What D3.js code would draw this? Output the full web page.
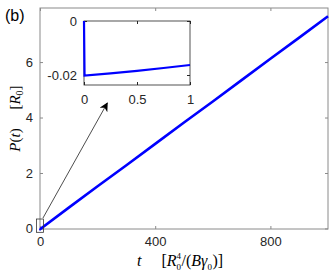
<!DOCTYPE html>
<html>
<head>
<meta charset="utf-8">
<script src="https://cdn.jsdelivr.net/npm/d3@7"></script>
<style>
  body { margin: 0; background: #fff; }
  text { font-family: 'Liberation Sans', Arial, sans-serif; }
  .lbl { font-family: 'Liberation Serif', 'DejaVu Serif', serif; }
</style>
</head>
<body>
<div id="canvas"></div>
<script>
// main curve
const tMain = [0, 1, 100, 200, 300, 400, 500, 600, 700, 800, 900, 1000];
const pMain = [0, -0.02, 0.75, 1.52, 2.28, 3.05, 3.82, 4.58, 5.35, 6.12, 6.88, 7.65];
const xTicksMain = [0, 400, 800];
const yTicksMain = [0, 2, 4, 6];

// inset curve (zoom on 0 <= t <= 1)
const tInset = [0, 0.005, 0.25, 0.5, 0.75, 1];
const pInset = [0, -0.0202, -0.0194, -0.0185, -0.0174, -0.0163];
const xTicksInset = [0, 0.5, 1];
const yTicksInset = [-0.02, 0];

const w = 332, h = 277;
const m = {left: 40, right: 328, top: 8, bottom: 229};

const svg = d3.select('#canvas').append('svg')
  .attr('width', w).attr('height', h);

const x = d3.scaleLinear().domain([0, 1000]).range([m.left, m.right]);
const y = d3.scaleLinear().domain([-0.02, 7.95]).range([m.bottom, m.top]);

const axisCol = '#8a8a8a';

function styleAxis(g, col) {
  g.select('.domain').remove();
  g.selectAll('line').attr('stroke', col);
  g.selectAll('text').attr('fill', '#262626').style('font-size', '13px');
}

svg.append('g').attr('transform', 'translate(0,' + m.bottom + ')')
  .call(d3.axisBottom(x).tickValues(xTicksMain).tickFormat(d3.format('d')).tickSizeInner(-3).tickPadding(8))
  .call(g => styleAxis(g, axisCol));
svg.append('g').attr('transform', 'translate(0,' + m.top + ')')
  .call(d3.axisTop(x).tickValues(xTicksMain).tickFormat('').tickSizeInner(-3))
  .call(g => styleAxis(g, axisCol));
svg.append('g').attr('transform', 'translate(' + m.left + ',0)')
  .call(d3.axisLeft(y).tickValues(yTicksMain).tickFormat(d3.format('d')).tickSizeInner(-3).tickPadding(7))
  .call(g => styleAxis(g, axisCol));
svg.append('g').attr('transform', 'translate(' + m.right + ',0)')
  .call(d3.axisRight(y).tickValues(yTicksMain).tickFormat('').tickSizeInner(-3))
  .call(g => styleAxis(g, axisCol));

svg.append('rect')
  .attr('x', m.left).attr('y', m.top)
  .attr('width', m.right - m.left).attr('height', m.bottom - m.top)
  .attr('fill', 'none').attr('stroke', axisCol).attr('stroke-width', 1);

const line = d3.line().x((d, i) => x(tMain[i])).y(d => y(d));
svg.append('path').datum(pMain)
  .attr('d', line)
  .attr('fill', 'none').attr('stroke', '#0000ff').attr('stroke-width', 2.6);

// zoom box around origin
const bx0 = x(-12), bx1 = x(12), by0 = y(0.34), by1 = y(-0.14);
svg.append('rect')
  .attr('x', bx0).attr('y', by0)
  .attr('width', bx1 - bx0).attr('height', by1 - by0)
  .attr('fill', 'none').attr('stroke', '#333').attr('stroke-width', 0.8);

// inset
const ix = d3.scaleLinear().domain([0, 1]).range([84, 190]);
const iy = d3.scaleLinear().domain([-0.0237, 0]).range([85, 21]);

svg.append('rect')
  .attr('x', 84).attr('y', 21).attr('width', 106).attr('height', 64)
  .attr('fill', '#fff');

const inCol = '#262626';
svg.append('g').attr('transform', 'translate(0,85)')
  .call(d3.axisBottom(ix).tickValues(xTicksInset).tickFormat(d => d === 0.5 ? '0.5' : d3.format('d')(d)).tickSizeInner(-3).tickPadding(10))
  .call(g => styleAxis(g, inCol));
svg.append('g').attr('transform', 'translate(0,21)')
  .call(d3.axisTop(ix).tickValues(xTicksInset).tickFormat('').tickSizeInner(-3))
  .call(g => styleAxis(g, inCol));
svg.append('g').attr('transform', 'translate(84,0)')
  .call(d3.axisLeft(iy).tickValues(yTicksInset).tickFormat(d => d === 0 ? '0' : d.toString()).tickSizeInner(-3).tickPadding(7))
  .call(g => styleAxis(g, inCol));
svg.append('g').attr('transform', 'translate(190,0)')
  .call(d3.axisRight(iy).tickValues(yTicksInset).tickFormat('').tickSizeInner(-3))
  .call(g => styleAxis(g, inCol));

svg.append('rect')
  .attr('x', 84).attr('y', 21).attr('width', 106).attr('height', 64)
  .attr('fill', 'none').attr('stroke', inCol).attr('stroke-width', 0.8);

const iline = d3.line().x((d, i) => ix(tInset[i])).y(d => iy(d));
svg.append('path').datum(pInset)
  .attr('d', iline)
  .attr('fill', 'none').attr('stroke', '#0000ff').attr('stroke-width', 2.2);

// arrow from zoom box to inset
svg.append('defs').append('marker')
  .attr('id', 'arr').attr('viewBox', '0 0 10 10')
  .attr('refX', 9).attr('refY', 5)
  .attr('markerWidth', 9).attr('markerHeight', 9)
  .attr('markerUnits', 'userSpaceOnUse')
  .attr('orient', 'auto')
  .append('path').attr('d', 'M0,0 L10,5 L0,10 L3,5 Z').attr('fill', '#000');

svg.append('line')
  .attr('x1', bx1 - 0.5).attr('y1', by0 - 1)
  .attr('x2', ix(0.22)).attr('y2', 103)
  .attr('stroke', '#000').attr('stroke-width', 0.7)
  .attr('marker-end', 'url(#arr)');

// labels
svg.append('text')
  .attr('x', 5).attr('y', 21)
  .style('font-size', '16px').attr('fill', '#000')
  .text('(b)');

// x label, laid out piece by piece (sup/sub stacked)
const xg = svg.append('g').attr('class', 'xlabel');
let cx = 137;
const base = 266;
function piece(txt, size, italic, dy, advance) {
  const t = xg.append('text').attr('class', 'lbl')
    .attr('x', cx).attr('y', base + dy)
    .style('font-size', size + 'px').style('font-style', italic ? 'italic' : 'normal')
    .attr('fill', '#000').text(txt);
  const len = t.node().getComputedTextLength();
  if (advance) cx += len;
  return len;
}
piece('t', 16, true, 0, true);
cx += 20;
piece('[', 16, false, 0, true);
piece('R', 16, true, 0, true);
const l4 = piece('4', 9, false, -7, false);
const l0 = piece('0', 9, false, 4, false);
cx += Math.max(l4, l0) + 0.5;
piece('/(', 16, false, 0, true);
piece('Bγ', 16, true, 0, true);
piece('0', 9, false, 4, true);
cx += 0.5;
piece(')]', 16, false, 0, true);

const yl = svg.append('text').attr('class', 'lbl')
  .attr('transform', 'translate(20,' + ((m.top + m.bottom) / 2) + ') rotate(-90)')
  .attr('text-anchor', 'middle').style('font-size', '15px').attr('fill', '#000');
yl.append('tspan').style('font-style', 'italic').text('P');
yl.append('tspan').text('(');
yl.append('tspan').style('font-style', 'italic').text('t');
yl.append('tspan').attr('xml:space', 'preserve').text(')     [');
yl.append('tspan').style('font-style', 'italic').text('R');
yl.append('tspan').attr('dy', 3).style('font-size', '10px').text('0');
yl.append('tspan').attr('dy', -3).text(']');
</script>
</body>
</html>
